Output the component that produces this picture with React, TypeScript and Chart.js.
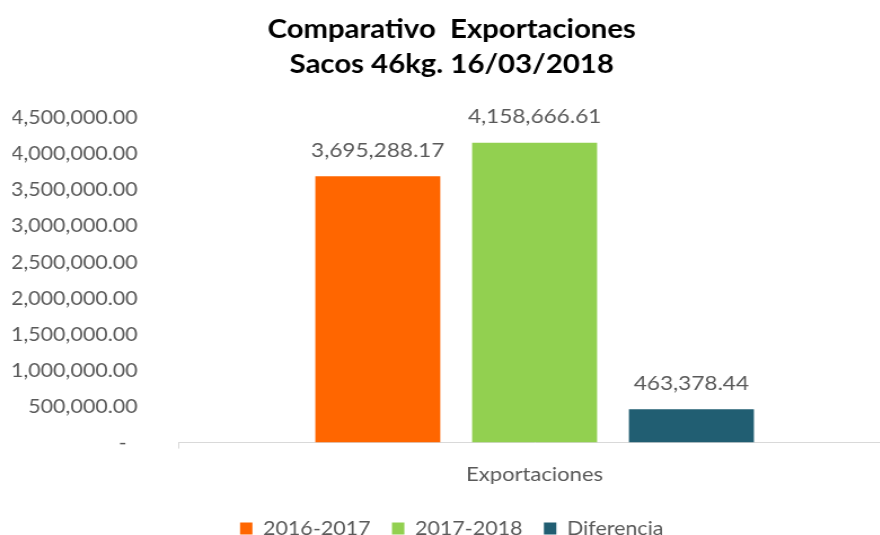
import React, { useEffect, useRef } from "react";
import { Chart, registerables } from "chart.js";

Chart.register(...registerables);

const categories = ["Exportaciones"];
const seriesNames = ["2016-2017", "2017-2018", "Diferencia"];
const seriesValues = [[3695288.17], [4158666.61], [463378.44]];
const seriesColors = ["#FF6600", "#92D050", "#215E72"];
const titleLines = ["Comparativo  Exportaciones", "Sacos 46kg. 16/03/2018"];
const yMax = 4500000;
const yStep = 500000;
const zeroLabel = "-  ";

const fmt = (v: number) =>
  v.toLocaleString("en-US", { minimumFractionDigits: 2, maximumFractionDigits: 2 });

const FONT = "Lato, 'Open Sans', sans-serif";

const valueLabels = {
  id: "valueLabels",
  afterDatasetsDraw(chart: any) {
    const ctx = chart.ctx;
    ctx.save();
    ctx.font = `20px ${FONT}`;
    ctx.fillStyle = "#595959";
    ctx.textAlign = "center";
    ctx.textBaseline = "bottom";
    chart.data.datasets.forEach((ds: any, i: number) => {
      const meta = chart.getDatasetMeta(i);
      meta.data.forEach((el: any, j: number) => {
        ctx.fillText(fmt(ds.data[j]), el.x, el.y - 16);
      });
    });
    ctx.restore();
  },
};

// canvas drawn at 790 units wide and displayed 891px wide (text is wide in the reference)
const CW = 790;
const CH = 548;
const DISPLAY_W = 891;

export default function App() {
  const ref = useRef<HTMLCanvasElement>(null);
  useEffect(() => {
    document.body.style.margin = "0";
    const chart = new Chart(ref.current!, {
      type: "bar",
      data: {
        labels: categories,
        datasets: seriesNames.map((n, i) => ({
          label: n,
          data: seriesValues[i],
          backgroundColor: seriesColors[i],
          barPercentage: 0.797,
          categoryPercentage: 0.66,
        })),
      },
      options: {
        animation: false,
        responsive: false,
        devicePixelRatio: 1,
        layout: { padding: { left: 11, right: 0, top: 12, bottom: 0 } },
        plugins: {
          title: {
            display: true,
            text: titleLines,
            color: "#000000",
            font: { family: FONT, size: 26, weight: "bold", lineHeight: 1.35 },
            padding: { top: 0, bottom: 36 },
          },
          legend: {
            position: "bottom",
            labels: {
              color: "#595959",
              font: { family: FONT, size: 19 },
              boxWidth: 11,
              boxHeight: 12,
              padding: 19,
            },
          },
          tooltip: { enabled: false },
        },
        scales: {
          x: {
            grid: {
              display: true,
              drawOnChartArea: false,
              drawTicks: true,
              tickLength: 6,
              color: "#D9D9D9",
            },
            border: { display: true, color: "#D9D9D9" },
            ticks: { color: "#595959", font: { family: FONT, size: 19.5 }, padding: 14 },
          },
          y: {
            min: 0,
            max: yMax,
            grid: { display: false, drawTicks: false },
            border: { display: false },
            afterFit: (scale: any) => {
              scale.width = 147;
            },
            ticks: {
              stepSize: yStep,
              color: "#595959",
              font: { family: FONT, size: 19 },
              padding: 36,
              callback: (v: any) => (Number(v) === 0 ? zeroLabel : fmt(Number(v))),
            },
          },
        },
      },
      plugins: [valueLabels],
    });
    return () => chart.destroy();
  }, []);
  return (
    <div style={{ position: "absolute", left: 0, top: 0, width: 880, height: 535, overflow: "hidden" }}>
      <canvas
        ref={ref}
        width={CW}
        height={CH}
        style={{ display: "block", width: DISPLAY_W + "px", height: CH + "px" }}
      />
    </div>
  );
}
